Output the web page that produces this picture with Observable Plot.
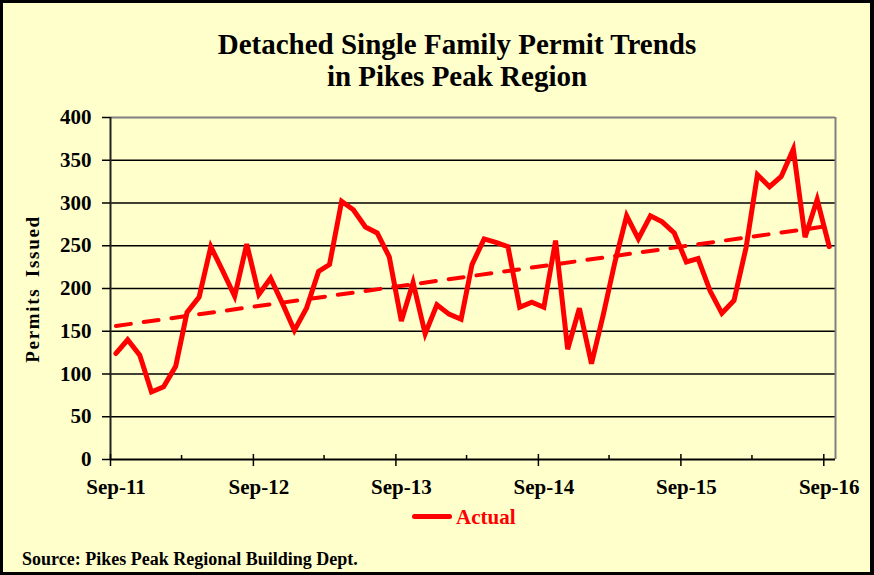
<!DOCTYPE html>
<html>
<head>
<meta charset="utf-8">
<script src="https://cdn.jsdelivr.net/npm/d3@7"></script>
<script src="https://cdn.jsdelivr.net/npm/@observablehq/plot@0.6"></script>
<style>
  html, body { margin: 0; padding: 0; background: #ffffff; }
  #frame { position: relative; width: 874px; height: 575px; background: #FFFFCC; overflow: hidden;
           font-family: "Liberation Serif", "Times New Roman", serif; font-weight: bold; }
  #border { position: absolute; left: 0; top: 0; width: 874px; height: 575px; box-sizing: border-box;
            border: 3px solid #000; border-right-width: 4px; pointer-events: none; }
  #title { position: absolute; left: 20px; top: 28px; width: 874px; text-align: center;
           font-size: 29px; line-height: 32px; color: #000; }
  #chart { position: absolute; left: 0; top: 100px; }
  #ylabel { position: absolute; left: 33px; top: 289px; transform: translate(-50%, -50%) rotate(-90deg);
            white-space: nowrap; font-size: 19px; letter-spacing: 1.7px; word-spacing: 4px; color: #000; }
  #legend { position: absolute; left: 412px; top: 505px; font-size: 21px; color: #FF0000; white-space: nowrap; }
  #legend .swatch { display: inline-block; width: 40px; height: 5px; background: #FF0000; border-radius: 3px;
                    vertical-align: middle; margin-right: 4px; position: relative; top: -3px; }
  #source { position: absolute; left: 22px; top: 549px; font-size: 18px; color: #000; white-space: nowrap; }
</style>
</head>
<body>
<div id="frame">
  <div id="title">Detached Single Family Permit Trends<br>in Pikes Peak Region</div>
  <div id="chart"></div>
  <div id="ylabel">Permits Issued</div>
  <div id="legend"><span class="swatch"></span>Actual</div>
  <div id="source">Source: Pikes Peak Regional Building Dept.</div>
  <div id="border"></div>
</div>
<script>
// Monthly permit counts, Sep-2011 .. Sep-2016
const months = [
  "2011-09","2011-10","2011-11","2011-12",
  "2012-01","2012-02","2012-03","2012-04","2012-05","2012-06","2012-07","2012-08","2012-09","2012-10","2012-11","2012-12",
  "2013-01","2013-02","2013-03","2013-04","2013-05","2013-06","2013-07","2013-08","2013-09","2013-10","2013-11","2013-12",
  "2014-01","2014-02","2014-03","2014-04","2014-05","2014-06","2014-07","2014-08","2014-09","2014-10","2014-11","2014-12",
  "2015-01","2015-02","2015-03","2015-04","2015-05","2015-06","2015-07","2015-08","2015-09","2015-10","2015-11","2015-12",
  "2016-01","2016-02","2016-03","2016-04","2016-05","2016-06","2016-07","2016-08","2016-09"
];
const permits = [
  124, 140, 122, 79,
  85, 109, 172, 190, 249, 220, 191, 252, 193, 212, 182, 151,
  177, 220, 228, 302, 292, 272, 265, 237, 162, 207, 147, 181,
  170, 164, 228, 258, 254, 249, 178, 184, 178, 256, 129, 177,
  112, 171, 229, 285, 258, 285, 278, 265, 231, 235, 197, 171,
  186, 248, 333, 319, 331, 363, 260, 304, 249
];
const yTicks = [0, 50, 100, 150, 200, 250, 300, 350, 400];
const gridValues = [50, 100, 150, 200, 250, 300, 350];
const majorTickMonths = ["2011-09","2012-09","2013-09","2014-09","2015-09","2016-09"];
const minorTickMonths = ["2012-03","2013-03","2014-03","2015-03","2016-03"];
const axisStart = "2011-09";
const axisEnd = "2016-10";

const parse = s => new Date(s + "-01T00:00:00Z");
const mid = s => new Date(s + "-15T00:00:00Z");
const data = months.map((m, i) => ({date: mid(m), value: permits[i]}));
const x0 = parse(axisStart), x1 = parse(axisEnd);

const plot = Plot.plot({
  width: 874,
  height: 410,
  marginLeft: 110,
  marginRight: 39,
  marginTop: 17,
  marginBottom: 51,
  style: {background: "transparent", fontFamily: "'Liberation Serif', 'Times New Roman', serif", fontWeight: "bold", fontSize: "21px", color: "#000", overflow: "visible"},
  x: {type: "utc", domain: [x0, x1]},
  y: {domain: [0, 400]},
  marks: [
    Plot.ruleY(gridValues, {stroke: "#000", strokeWidth: 1.5}),
    Plot.ruleY([400], {stroke: "#808080", strokeWidth: 2}),
    Plot.ruleX([x1], {stroke: "#808080", strokeWidth: 2}),
    Plot.ruleX([x0], {stroke: "#222", strokeWidth: 2}),
    Plot.ruleY([0], {stroke: "#000", strokeWidth: 2}),
    Plot.axisY({ticks: yTicks, tickSize: 8, tickPadding: 11, strokeWidth: 1.5, label: null, tickFormat: d => String(d)}),
    Plot.axisX({ticks: majorTickMonths.map(parse), tickSize: 12, dy: -5, tickFormat: () => "", label: null, strokeWidth: 1.5}),
    Plot.axisX({ticks: minorTickMonths.map(parse), tickSize: 4, dy: -4, tickFormat: () => "", label: null, strokeWidth: 1.5}),
    Plot.axisX({ticks: majorTickMonths.map(mid), tickSize: 0, tickPadding: 20, tickFormat: d3.utcFormat("%b-%y"), label: null}),
    Plot.linearRegressionY(data, {x: "date", y: "value", stroke: "#FF0000", strokeWidth: 4, strokeDasharray: "15,13", ci: 0}),
    Plot.line(data, {x: "date", y: "value", stroke: "#FF0000", strokeWidth: 5, strokeLinejoin: "miter", strokeMiterlimit: 4})
  ]
});
document.getElementById("chart").appendChild(plot);
</script>
</body>
</html>
